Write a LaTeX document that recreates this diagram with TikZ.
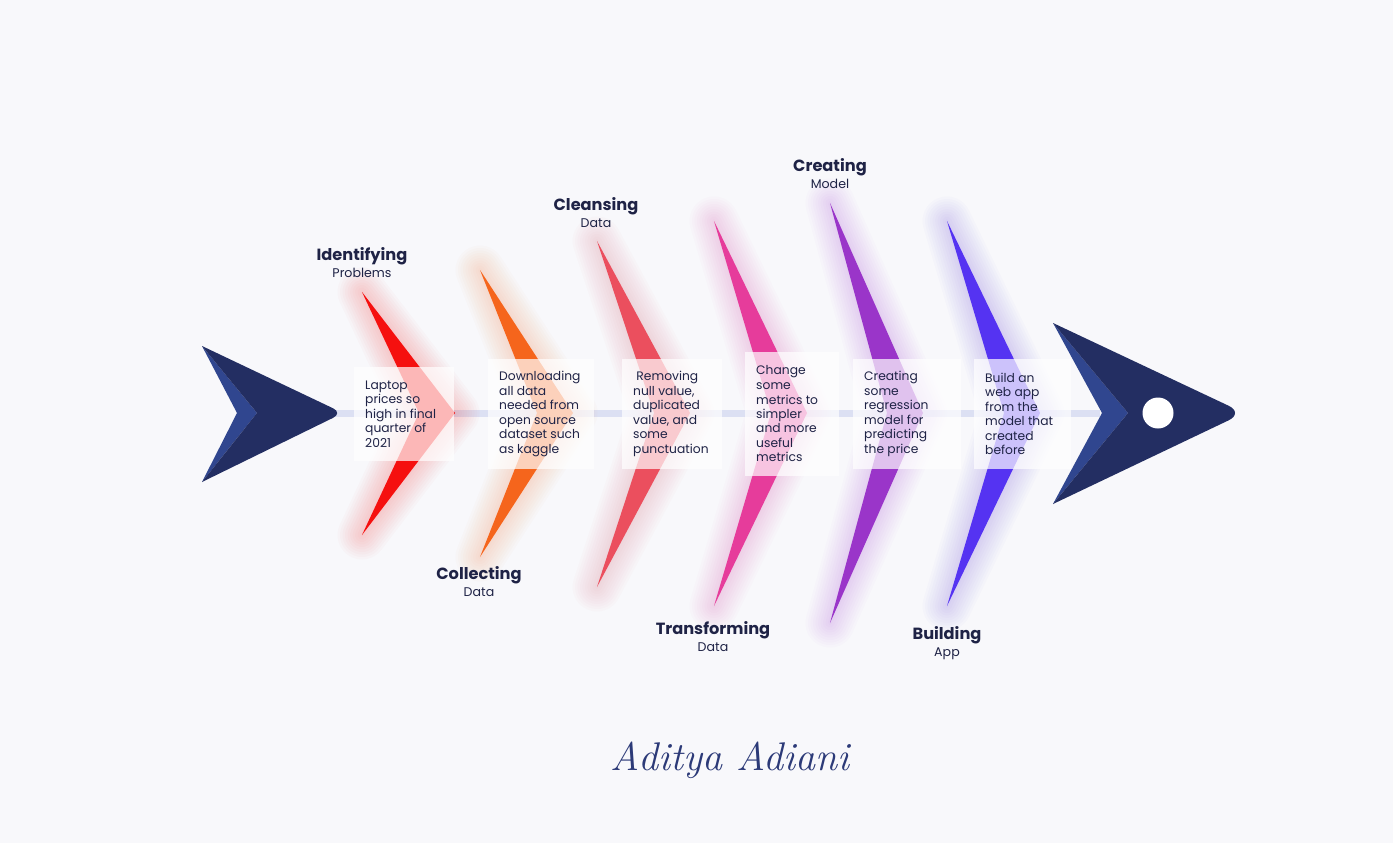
\documentclass[tikz,border=0pt]{standalone}
\usepackage{fontspec}
\setsansfont{Poppins}
\usetikzlibrary{calc}
\definecolor{bg}{HTML}{F8F8FB}
\definecolor{navy}{HTML}{232E62}
\definecolor{navylight}{HTML}{30468F}
\definecolor{spinec}{HTML}{DCE0F3}
\definecolor{ink}{HTML}{1F2346}
\definecolor{cA}{HTML}{F5100F}
\definecolor{cB}{HTML}{F5651C}
\definecolor{cC}{HTML}{EB4F5E}
\definecolor{cD}{HTML}{E63C9B}
\definecolor{cE}{HTML}{9A35C9}
\definecolor{cF}{HTML}{5533F2}
\definecolor{sigc}{HTML}{2C3A78}
\tikzset{
  boxbg/.style={fill=white, fill opacity=0.7, draw=none, inner sep=0pt, anchor=west},
  body/.style={font=\sffamily\fontsize{12.3}{14.5}\selectfont, text=ink, align=left, anchor=west, inner sep=0pt},
  ttl/.style={font=\sffamily\bfseries\fontsize{16.2}{20}\selectfont, text=ink, inner sep=0pt, anchor=base},
  subt/.style={font=\sffamily\fontsize{12.6}{15}\selectfont, text=ink, inner sep=0pt, anchor=base},
}
\newcommand\fishbone[5]{%
  \coordinate (#5t) at (#1,#2);
  \coordinate (#5p) at (#1+93,413);
  \coordinate (#5b) at (#1,#3);
  \coordinate (#5i) at (#1+57,413);
  \begin{scope}[yshift=-12pt]
  \fill[#4, opacity=0.05] (#5t) -- (#5p) -- (#5b) -- (#5i) -- cycle;
  \foreach \w in {4,9,...,49} {
    \draw[#4, line width=\w pt, opacity=0.018, line join=round]
      (#5t) -- (#5p) -- (#5b) -- (#5i) -- cycle;
  }
  \end{scope}
  \fill[#4] (#5t) -- (#5p) -- (#5b) -- (#5i) -- cycle;
}
\begin{document}
\begin{tikzpicture}[x=1pt,y=-1pt]
\fill[bg] (0,0) rectangle (1393,843);
\useasboundingbox (0,0) rectangle (1393,843);

% spine
\coordinate (spL) at (330,413);
\coordinate (spR) at (1100,413);
\draw[spinec, line width=7pt] (spL) -- (spR);

% bones
\fishbone{362}{292}{535}{cA}{b1}
\fishbone{480}{270}{557}{cB}{b2}
\fishbone{597}{241}{587}{cC}{b3}
\fishbone{714}{221}{606}{cD}{b4}
\fishbone{830}{203}{623}{cE}{b5}
\fishbone{947}{221}{606}{cF}{b6}

% boxes
\node[boxbg, minimum width=100pt, minimum height=94pt] (box1) at (354,414) {};
\node[boxbg, minimum width=106pt, minimum height=110pt] (box2) at (488,414) {};
\node[boxbg, minimum width=100pt, minimum height=110pt] (box3) at (622,414) {};
\node[boxbg, minimum width=94pt, minimum height=124pt] (box4) at (745,414) {};
\node[boxbg, minimum width=108pt, minimum height=110pt] (box5) at (853,414) {};
\node[boxbg, minimum width=97pt, minimum height=110pt] (box6) at (974,414) {};

\node[body] (t1) at ([xshift=11pt]box1.west) {Laptop\\prices so\\high in final\\quarter of\\2021};
\node[body] (t2) at ([xshift=11pt]box2.west) {Downloading\\all data\\needed from\\open source\\dataset such\\as kaggle};
\node[body] (t3) at ([xshift=11pt]box3.west) {\ Removing\\null value,\\duplicated\\value, and\\some\\punctuation};
\node[body] (t4) at ([xshift=11pt]box4.west) {Change\\some\\metrics to\\simpler\\and more\\useful\\metrics};
\node[body] (t5) at ([xshift=11pt]box5.west) {Creating\\some\\regression\\model for\\predicting\\the price};
\node[body] (t6) at ([xshift=11pt]box6.west) {Build an\\web app\\from the\\model that\\created\\before};

% titles
\node[ttl] (h1) at (362,260) {Identifying};
\node[subt] (s1) at (362,277.5) {Problems};
\node[ttl] (h2) at (479,579) {Collecting};
\node[subt] (s2) at (479,596) {Data};
\node[ttl] (h3) at (596,210.5) {Cleansing};
\node[subt] (s3) at (596,227) {Data};
\node[ttl] (h4) at (713,634) {Transforming};
\node[subt] (s4) at (713,651) {Data};
\node[ttl] (h5) at (830,171) {Creating};
\node[subt] (s5) at (830,188) {Model};
\node[ttl] (h6) at (947,639) {Building};
\node[subt] (s6) at (947,656) {App};

% tail
\fill[navylight] (202,346) -- (257,413) -- (202,482) -- (237,413) -- cycle;
\fill[navy] (202,346) [rounded corners=11pt] -- (343,413) [sharp corners] -- (202,482) -- (257,413) -- cycle;

% head
\fill[navylight] (1053,323) -- (1128,413) -- (1053,504) -- (1102,413) -- cycle;
\fill[navy] (1053,323) [rounded corners=17pt] -- (1244,413) [sharp corners] -- (1053,504) -- (1128,413) -- cycle;
\node[circle, fill=white, minimum size=31pt, inner sep=0pt] (eye) at (1158,413) {};

% signature
\node[font=\rmfamily\itshape\fontsize{40}{44}\selectfont, text=sigc, inner sep=0pt] (sig) at (730,760) {Aditya Adiani};
\end{tikzpicture}
\end{document}
